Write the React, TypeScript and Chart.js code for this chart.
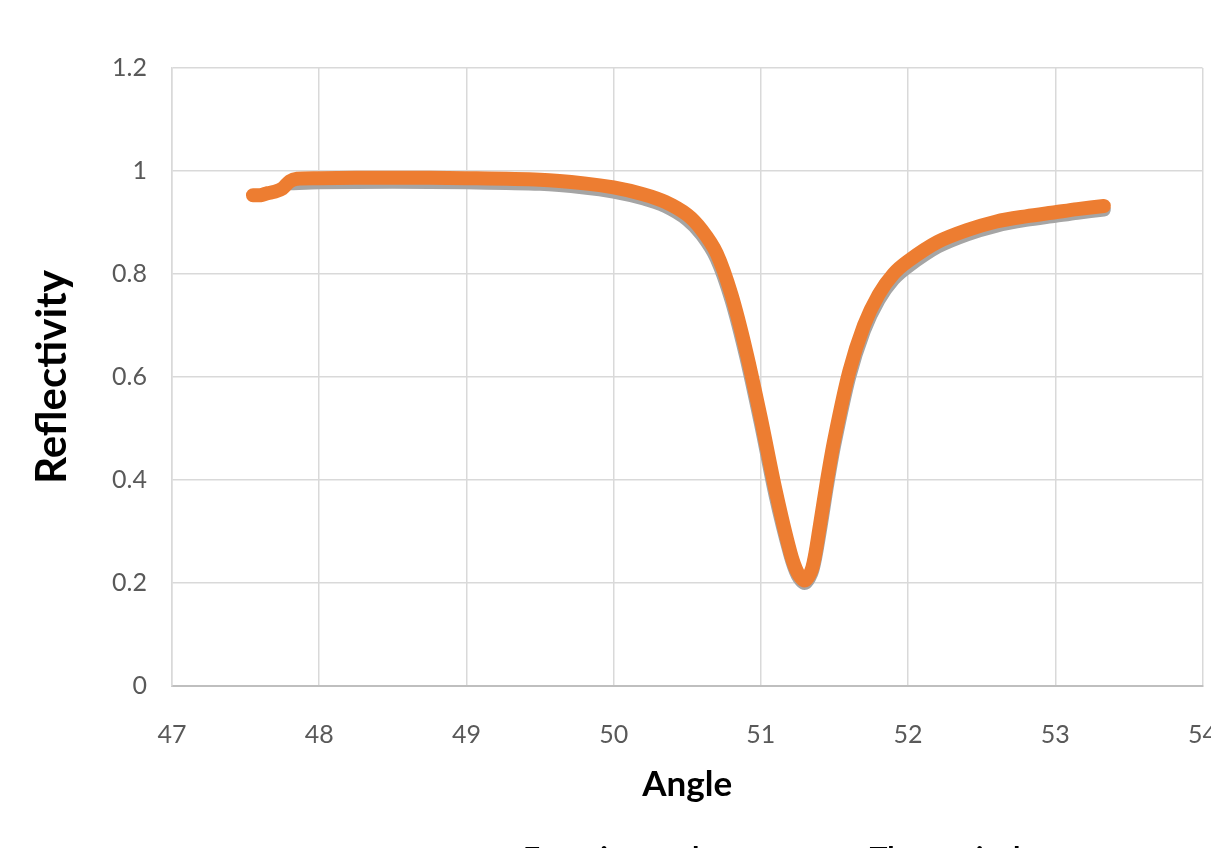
import React, { useEffect, useRef } from "react";
import { Chart, registerables } from "chart.js";

Chart.register(...registerables);

// Experimental (orange) series
const EXP_ANGLE = [47.55, 47.6, 47.65, 47.7, 47.75, 47.8, 47.85, 48.0, 48.5, 49.0, 49.5, 49.8, 50.0, 50.2, 50.35, 50.5, 50.6, 50.7, 50.8, 50.9, 51.0, 51.1, 51.2, 51.25, 51.3, 51.35, 51.4, 51.45, 51.5, 51.6, 51.7, 51.8, 51.9, 52.0, 52.2, 52.4, 52.6, 52.8, 53.0, 53.15, 53.33];
const EXP_REFL = [0.953, 0.953, 0.957, 0.96, 0.966, 0.98, 0.985, 0.986, 0.987, 0.986, 0.983, 0.976, 0.968, 0.955, 0.94, 0.915, 0.885, 0.84, 0.76, 0.65, 0.52, 0.38, 0.26, 0.22, 0.205, 0.23, 0.31, 0.4, 0.48, 0.61, 0.7, 0.76, 0.8, 0.825, 0.862, 0.885, 0.902, 0.912, 0.92, 0.926, 0.932];

// Theoretical (grey) series
const THEO_ANGLE = [47.8, 48.0, 48.5, 49.0, 49.5, 49.8, 50.0, 50.2, 50.35, 50.5, 50.6, 50.7, 50.8, 50.9, 51.0, 51.1, 51.2, 51.25, 51.3, 51.35, 51.4, 51.45, 51.5, 51.6, 51.7, 51.8, 51.9, 52.0, 52.2, 52.4, 52.6, 52.8, 53.0, 53.15, 53.33];
const THEO_REFL = [0.976, 0.978, 0.979, 0.978, 0.975, 0.968, 0.96, 0.947, 0.932, 0.906, 0.876, 0.83, 0.75, 0.64, 0.51, 0.37, 0.255, 0.215, 0.2, 0.225, 0.3, 0.39, 0.47, 0.6, 0.69, 0.75, 0.79, 0.815, 0.853, 0.877, 0.894, 0.905, 0.913, 0.919, 0.925];

const X_MIN = 47;
const X_MAX = 54;
const Y_MIN = 0;
const Y_MAX = 1.2;

const SERIES_NAMES = ["Experimental", "Theoretical"];
const SERIES_COLORS = ["#ED7D31", "#A5A5A5"];

const FONT = "Lato, 'Open Sans', sans-serif";

export default function App() {
  const ref = useRef<HTMLCanvasElement | null>(null);

  useEffect(() => {
    if (!ref.current) return;
    const toPts = (xs: number[], ys: number[]) => xs.map((x, i) => ({ x, y: ys[i] }));
    const chart = new Chart(ref.current, {
      type: "scatter",
      data: {
        datasets: [
          {
            label: SERIES_NAMES[0],
            data: toPts(EXP_ANGLE, EXP_REFL),
            showLine: true,
            borderColor: SERIES_COLORS[0],
            backgroundColor: SERIES_COLORS[0],
            borderWidth: 14,
            pointRadius: 0,
            tension: 0.3,
            borderCapStyle: "round",
            borderJoinStyle: "round",
            order: 0,
          },
          {
            label: SERIES_NAMES[1],
            data: toPts(THEO_ANGLE, THEO_REFL),
            showLine: true,
            borderColor: SERIES_COLORS[1],
            backgroundColor: SERIES_COLORS[1],
            borderWidth: 14,
            pointRadius: 0,
            tension: 0.3,
            borderCapStyle: "round",
            borderJoinStyle: "round",
            order: 1,
          },
        ],
      },
      options: {
        responsive: false,
        animation: false,
        layout: { padding: { top: 68, left: 0, right: 26, bottom: 0 } },
        plugins: { legend: { display: false }, tooltip: { enabled: false } },
        scales: {
          x: {
            type: "linear",
            min: X_MIN,
            max: X_MAX,
            afterFit: (s: any) => { s.height = 194; },
            ticks: { stepSize: 1, padding: 34, color: "#595959", font: { family: FONT, size: 25 } },
            grid: { color: "#d9d9d9", lineWidth: 1.5, drawTicks: false },
            border: { color: "#bfbfbf", width: 2 },
            title: {
              display: true,
              text: "Angle",
              color: "#000",
              font: { family: FONT, size: 35, weight: "bold" },
              padding: { top: 0, bottom: 74 },
            },
          },
          y: {
            min: Y_MIN,
            max: Y_MAX,
            afterFit: (s: any) => { s.width = 172; },
            ticks: {
              stepSize: 0.2,
              padding: 25,
              color: "#595959",
              font: { family: FONT, size: 25 },
              callback: (v: any) => String(Number(Number(v).toFixed(1))),
            },
            grid: { color: "#d9d9d9", lineWidth: 1.5, drawTicks: false },
            border: { color: "#d9d9d9", width: 1.5 },
            title: {
              display: true,
              text: "Reflectivity",
              color: "#000",
              font: { family: FONT, size: 42, weight: "bold" },
              padding: { top: 27, bottom: 0 },
            },
          },
        },
      },
    });
    return () => chart.destroy();
  }, []);

  return (
    <div style={{ position: "fixed", left: 0, top: 0, width: 1211, height: 848, overflow: "hidden", background: "#fff" }}>
      <canvas ref={ref} width={1251} height={880} style={{ position: "absolute", left: 0, top: 0, width: 1251, height: 880 }} />
      <div style={{ position: "absolute", left: 443, top: 839, display: "flex", alignItems: "center", fontFamily: FONT, fontWeight: "bold", fontSize: 30, whiteSpace: "nowrap" }}>
        <span style={{ display: "inline-block", width: 60, height: 6, background: SERIES_COLORS[0], marginRight: 20 }} />
        <span>{SERIES_NAMES[0]}</span>
        <span style={{ display: "inline-block", width: 60, height: 6, background: SERIES_COLORS[1], marginLeft: 90, marginRight: 20 }} />
        <span>{SERIES_NAMES[1]}</span>
      </div>
    </div>
  );
}
